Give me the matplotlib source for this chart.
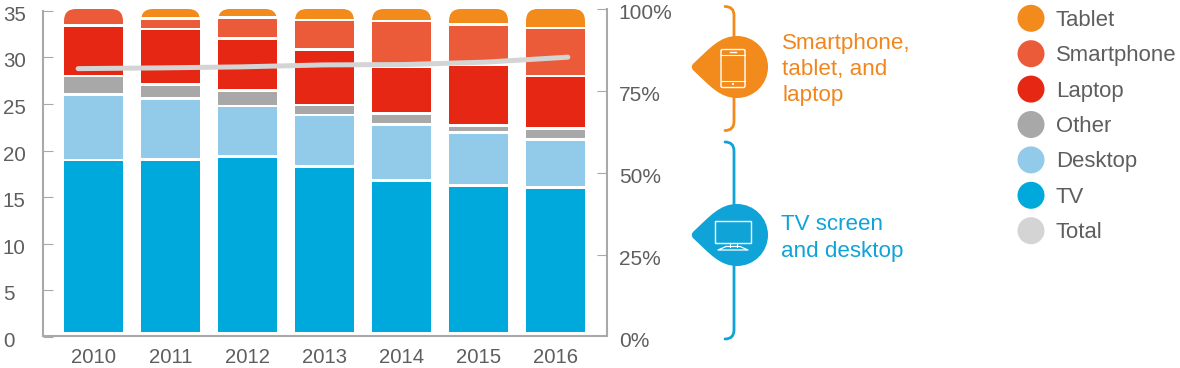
import numpy as np
import matplotlib
matplotlib.use("Agg")
import matplotlib.pyplot as plt
from matplotlib.patches import Circle, FancyBboxPatch, PathPatch, Rectangle
from matplotlib.path import Path
from matplotlib.transforms import ScaledTranslation

plt.rcParams["font.family"] = ["Liberation Sans", "DejaVu Sans"]

# Data, in stack order from the bottom up
years = ["2010", "2011", "2012", "2013", "2014", "2015", "2016"]
tv = [19.0, 19.04, 19.36, 18.33, 16.77, 16.29, 16.05]
desktop = [7.04, 6.54, 5.41, 5.51, 6.06, 5.63, 5.15]
other = [1.96, 1.55, 1.67, 1.04, 1.15, 0.79, 1.19]
laptop = [5.4, 5.91, 5.59, 5.99, 5.06, 6.55, 5.63]
smartphone = [1.8, 1.14, 2.29, 3.16, 4.86, 4.27, 5.15]
tablet = [0, 1.02, 0.88, 1.17, 1.3, 1.67, 2.02]
total = [28.8, 28.88, 28.99, 29.2, 29.24, 29.5, 30.03]

left_ticks = [0, 5, 10, 15, 20, 25, 30, 35]
right_ticks = [0, 25, 50, 75, 100]
right_labels = ["0%", "25%", "50%", "75%", "100%"]

ORANGE = "#F28A1C"
CORAL = "#EC5B39"
RED = "#E52713"
GREY = "#A8A8A8"
LIGHT_BLUE = "#92CAEA"
BLUE = "#00A9DB"
LINE_GREY = "#D4D4D4"
AXIS = "#A9A9A9"
TEXT = "#5E5E5E"

stack = [tv, desktop, other, laptop, smartphone, tablet]
stack_colors = [BLUE, LIGHT_BLUE, GREY, RED, CORAL, ORANGE]
legend_names = ["Tablet", "Smartphone", "Laptop", "Other", "Desktop", "TV", "Total"]
legend_colors = [ORANGE, CORAL, RED, GREY, LIGHT_BLUE, BLUE, LINE_GREY]

W, H = 1180, 368
fig = plt.figure(figsize=(W / 100, H / 100), dpi=100)

# Plot frame in pixels
x0, x1, y_top, y_bot = 43, 607, 9, 337
ax = fig.add_axes([x0 / W, 1 - y_bot / H, (x1 - x0) / W, (y_bot - y_top) / H])
ax.set_xlim((43 - 93.5) / 77, (607 - 93.5) / 77)
ax.set_ylim(0, 35.2)

bar_w = 59 / 77
base = 0.54   # bars float just above the axis
gap = 0.28    # white rule between segments
xs = np.arange(len(years))

# Rounded top of each bar comes from a clip patch
clips = []
for x in xs:
    clips.append(FancyBboxPatch((x - bar_w / 2, -3), bar_w, 35.2 + 3,
                                boxstyle="round,pad=0,rounding_size=0.155",
                                mutation_aspect=8.27, transform=ax.transData))

bottom = np.zeros(len(years))
for values, color in zip(stack, stack_colors):
    values = np.array(values)
    for i, x in enumerate(xs):
        if values[i] <= 0:
            continue
        lo = bottom[i] + gap / 2 if bottom[i] > 0 else base
        hi = bottom[i] + values[i] - gap / 2
        if bottom[i] + values[i] >= 35.19:
            hi = 35.2
        bars = ax.bar(x, hi - lo, bottom=lo, width=bar_w, color=color, linewidth=0, zorder=2)
        bars[0].set_clip_path(clips[i])
    bottom += values

# Total line runs a little wider than the bar centres
ax.plot(xs * 1.06 - 0.2, total, color=LINE_GREY, lw=3.6, solid_capstyle="round", zorder=3)

# Left axis
for s in ["top", "right"]:
    ax.spines[s].set_visible(False)
ax.spines["left"].set_bounds(0.1, 35)
ax.spines["left"].set_color(AXIS)
ax.spines["left"].set_linewidth(1.5)
ax.spines["bottom"].set_color(AXIS)
ax.spines["bottom"].set_linewidth(1.5)
ax.spines["bottom"].set_position(("data", 0.1))
ax.set_xticks(xs, years)
ax.tick_params(axis="x", length=0, pad=8.5, labelsize=14.6, labelcolor=TEXT)
ax.set_yticks(left_ticks)
ax.tick_params(axis="y", direction="in", length=7.2, width=0.8, color=AXIS,
               pad=28.8, labelsize=14.8, labelcolor=TEXT)
ax.yaxis.get_major_ticks()[0].tick1line.set_visible(False)
down = ScaledTranslation(0, -0.025, fig.dpi_scale_trans)
for lab in ax.get_yticklabels():
    lab.set_ha("left")
    lab.set_transform(lab.get_transform() + down)

# Right axis
ax2 = ax.twinx()
ax2.set_ylim(0, 100)
for s in ["top", "left", "bottom"]:
    ax2.spines[s].set_visible(False)
ax2.spines["right"].set_bounds(0.3, 100)
ax2.spines["right"].set_color(AXIS)
ax2.spines["right"].set_linewidth(1.5)
ax2.set_yticks(right_ticks, right_labels)
ax2.tick_params(axis="y", direction="in", length=7.2, width=0.8, color=AXIS,
                pad=8.5, labelsize=15, labelcolor=TEXT)
ax2.yaxis.get_major_ticks()[0].tick2line.set_visible(False)
for lab in ax2.get_yticklabels():
    lab.set_transform(lab.get_transform() + down)

# Overlay in pixel coordinates for the callouts and the legend
ov = fig.add_axes([0, 0, 1, 1])
ov.set_xlim(0, W)
ov.set_ylim(H, 0)
ov.axis("off")


def bracket(top, bottom_y, color):
    verts = [(725, top), (734, top), (734, top + 9), (734, bottom_y - 9),
             (734, bottom_y), (725, bottom_y)]
    codes = [Path.MOVETO, Path.CURVE3, Path.CURVE3, Path.LINETO, Path.CURVE3, Path.CURVE3]
    ov.add_patch(PathPatch(Path(verts, codes), fc="none", ec=color, lw=2, capstyle="round"))


def teardrop(cy, color):
    # right half is a circle, left side tapers to a soft point
    cx, r = 737, 31
    k = 0.5523 * r
    verts = [(cx, cy - r),
             (cx + k, cy - r), (cx + r, cy - k), (cx + r, cy),
             (cx + r, cy + k), (cx + k, cy + r), (cx, cy + r),
             (cx - 17, cy + r), (cx - 27, cy + 19), (cx - 43, cy + 4),
             (cx - 46, cy + 1.5), (cx - 46, cy - 1.5), (cx - 43, cy - 4),
             (cx - 27, cy - 19), (cx - 17, cy - r), (cx, cy - r)]
    codes = [Path.MOVETO] + [Path.CURVE4] * 15
    ov.add_patch(PathPatch(Path(verts, codes), fc=color, ec="none"))


bracket(6.5, 130.5, ORANGE)
teardrop(67, ORANGE)
bracket(142, 339, "#0FA3D8")
teardrop(235, "#0FA3D8")

# Phone icon
ov.add_patch(FancyBboxPatch((721, 49.5), 24, 38, boxstyle="round,pad=0,rounding_size=1.5",
                            fc="none", ec="white", lw=1))
ov.plot([721, 745], [55, 55], color="white", lw=0.8)
ov.plot([721, 745], [81, 81], color="white", lw=0.8)
ov.plot([730, 736], [52.2, 52.2], color="white", lw=1)
ov.add_patch(Circle((733, 84), 1.1, fc="white", ec="none"))

# TV icon
ov.add_patch(Rectangle((715, 221), 36, 22, fc="none", ec="white", lw=1))
ov.plot([729.5, 729.5], [243, 247], color="white", lw=0.8)
ov.plot([736.5, 736.5], [243, 247], color="white", lw=0.8)
ov.plot([726, 740, 748, 718, 726], [246.5, 246.5, 250, 250, 246.5], color="white", lw=0.9)

for txt, base_y in zip(["Smartphone,", "tablet, and", "laptop"], [49.5, 75.5, 101.5]):
    ov.text(782, base_y, txt, color="#F0871E", fontsize=16.1, va="baseline", ha="left")
for txt, base_y in zip(["TV screen", "and desktop"], [230, 256.5]):
    ov.text(781, base_y, txt, color="#0FA3D8", fontsize=16.1, va="baseline", ha="left")

# Legend
for i, (name, color) in enumerate(zip(legend_names, legend_colors)):
    cy = 18.3 + i * 35.4
    ov.add_patch(Circle((1031, cy), 13.5, fc=color, ec="none"))
    ov.text(1056, cy + 7.6, name, color=TEXT, fontsize=15.9, va="baseline", ha="left")

fig.savefig("out.png", dpi=100)
